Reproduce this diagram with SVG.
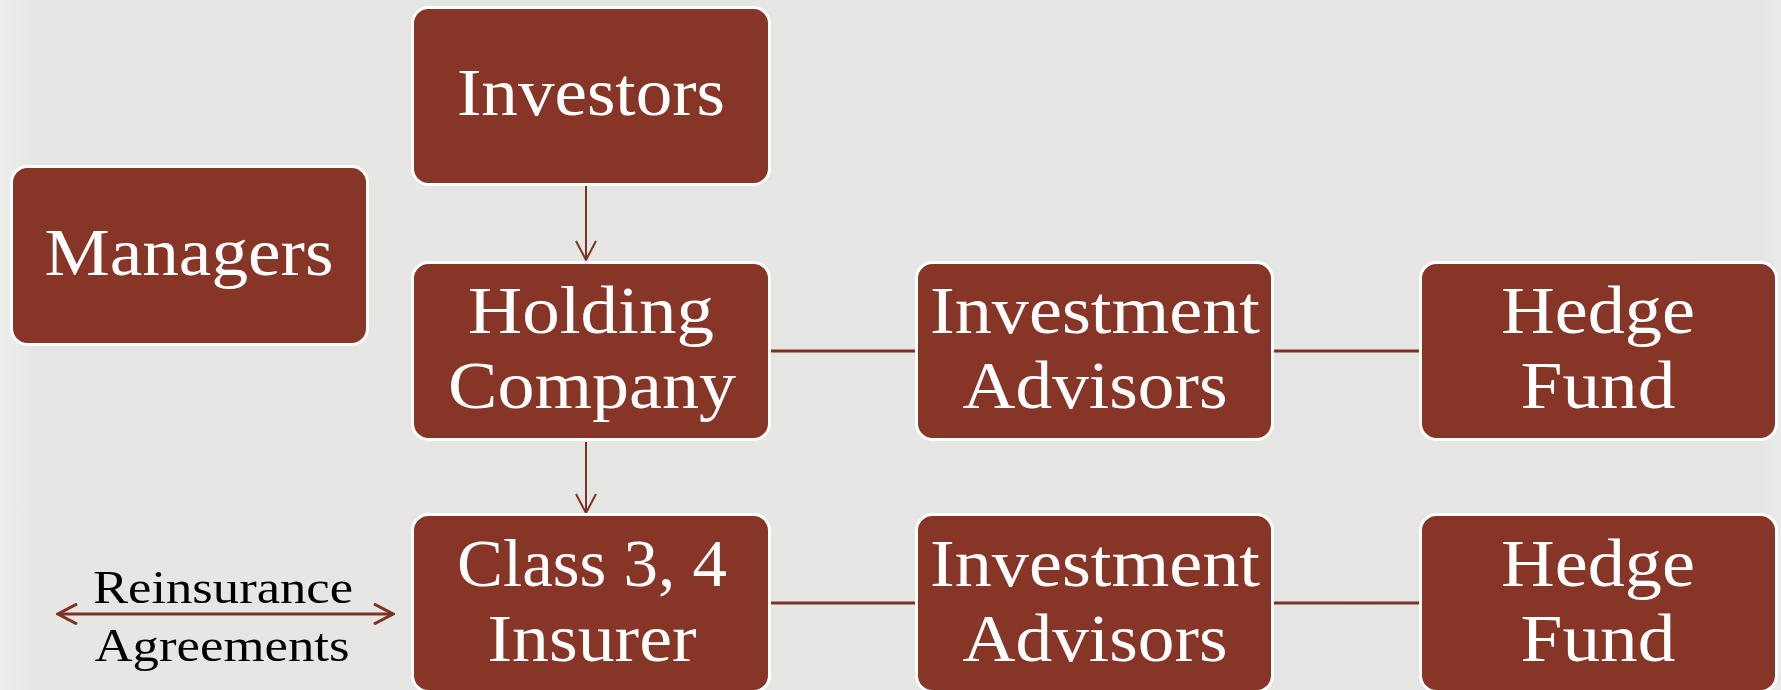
<svg xmlns="http://www.w3.org/2000/svg" width="1781" height="690" viewBox="0 0 1781 690">
<style>
.box{fill:#863526;stroke:#ffffff;stroke-width:3}
.t{font-family:"Liberation Serif","DejaVu Serif",serif;font-size:68px;fill:#ffffff;text-anchor:middle}
.lbl{font-family:"Liberation Serif","DejaVu Serif",serif;font-size:47px;fill:#000000;text-anchor:middle}
.ln{stroke:#7d3223;stroke-width:3;fill:none}
.ar{stroke:#7d3223;stroke-width:2;fill:none}
</style>
<defs>
<linearGradient id="bg" x1="0" y1="0" x2="1" y2="0">
<stop offset="0" stop-color="#eeeeec"/>
<stop offset="0.02" stop-color="#e6e6e4"/>
<stop offset="0.99" stop-color="#e5e5e3"/>
<stop offset="1" stop-color="#ebebe9"/>
</linearGradient>
<marker id="head" viewBox="0 0 22 22" refX="20" refY="11" markerWidth="22" markerHeight="22" markerUnits="userSpaceOnUse" orient="auto-start-reverse">
<path d="M1,1 L20,11 L1,21" fill="none" stroke="#7d3223" stroke-width="2"/>
</marker>
<marker id="head2" viewBox="0 0 22 22" refX="20" refY="11" markerWidth="22" markerHeight="22" markerUnits="userSpaceOnUse" orient="auto-start-reverse">
<path d="M1,1 L20,11 L1,21" fill="none" stroke="#7d3223" stroke-width="3"/>
</marker>
</defs>
<rect x="0" y="0" width="1781" height="690" fill="url(#bg)"/>
<g id="connectors">
<line class="ar" x1="586" y1="186" x2="586" y2="260" marker-end="url(#head)"/>
<line class="ar" x1="586" y1="442" x2="586" y2="513" marker-end="url(#head)"/>
<line class="ln" x1="771" y1="351" x2="915" y2="351"/>
<line class="ln" x1="1274" y1="351" x2="1419" y2="351"/>
<line class="ln" x1="771" y1="603" x2="915" y2="603"/>
<line class="ln" x1="1274" y1="603" x2="1419" y2="603"/>
<line class="ln" x1="58" y1="614" x2="393" y2="614" marker-start="url(#head2)" marker-end="url(#head2)"/>
<text class="lbl" x="223" y="603" textLength="260" lengthAdjust="spacingAndGlyphs">Reinsurance</text>
<text class="lbl" x="222" y="661" textLength="255" lengthAdjust="spacingAndGlyphs">Agreements</text>
</g>
<g id="investors">
<rect class="box" x="412.5" y="7.5" width="357" height="177" rx="16"/>
<text class="t" x="591" y="115" textLength="268" lengthAdjust="spacingAndGlyphs">Investors</text>
</g>
<g id="managers">
<rect class="box" x="11.5" y="166.5" width="356" height="178" rx="16"/>
<text class="t" x="189" y="275" textLength="289" lengthAdjust="spacingAndGlyphs">Managers</text>
</g>
<g id="holding">
<rect class="box" x="412.5" y="262.5" width="357" height="177" rx="16"/>
<text class="t" x="591" y="333" textLength="246" lengthAdjust="spacingAndGlyphs">Holding</text>
<text class="t" x="592" y="408" textLength="288" lengthAdjust="spacingAndGlyphs">Company</text>
</g>
<g id="advisors1">
<rect class="box" x="916.5" y="262.5" width="356" height="177" rx="16"/>
<text class="t" x="1095" y="333" textLength="330" lengthAdjust="spacingAndGlyphs">Investment</text>
<text class="t" x="1095" y="408" textLength="265" lengthAdjust="spacingAndGlyphs">Advisors</text>
</g>
<g id="hedge1">
<rect class="box" x="1420.5" y="262.5" width="356" height="177" rx="16"/>
<text class="t" x="1598" y="333" textLength="194" lengthAdjust="spacingAndGlyphs">Hedge</text>
<text class="t" x="1598" y="408" textLength="155" lengthAdjust="spacingAndGlyphs">Fund</text>
</g>
<g id="insurer">
<rect class="box" x="412.5" y="514.5" width="357" height="177" rx="16"/>
<text class="t" x="592" y="586" textLength="270" lengthAdjust="spacingAndGlyphs">Class 3, 4</text>
<text class="t" x="592" y="661" textLength="209" lengthAdjust="spacingAndGlyphs">Insurer</text>
</g>
<g id="advisors2">
<rect class="box" x="916.5" y="514.5" width="356" height="177" rx="16"/>
<text class="t" x="1095" y="586" textLength="330" lengthAdjust="spacingAndGlyphs">Investment</text>
<text class="t" x="1095" y="661" textLength="265" lengthAdjust="spacingAndGlyphs">Advisors</text>
</g>
<g id="hedge2">
<rect class="box" x="1420.5" y="514.5" width="356" height="177" rx="16"/>
<text class="t" x="1598" y="586" textLength="194" lengthAdjust="spacingAndGlyphs">Hedge</text>
<text class="t" x="1598" y="661" textLength="155" lengthAdjust="spacingAndGlyphs">Fund</text>
</g>
</svg>
